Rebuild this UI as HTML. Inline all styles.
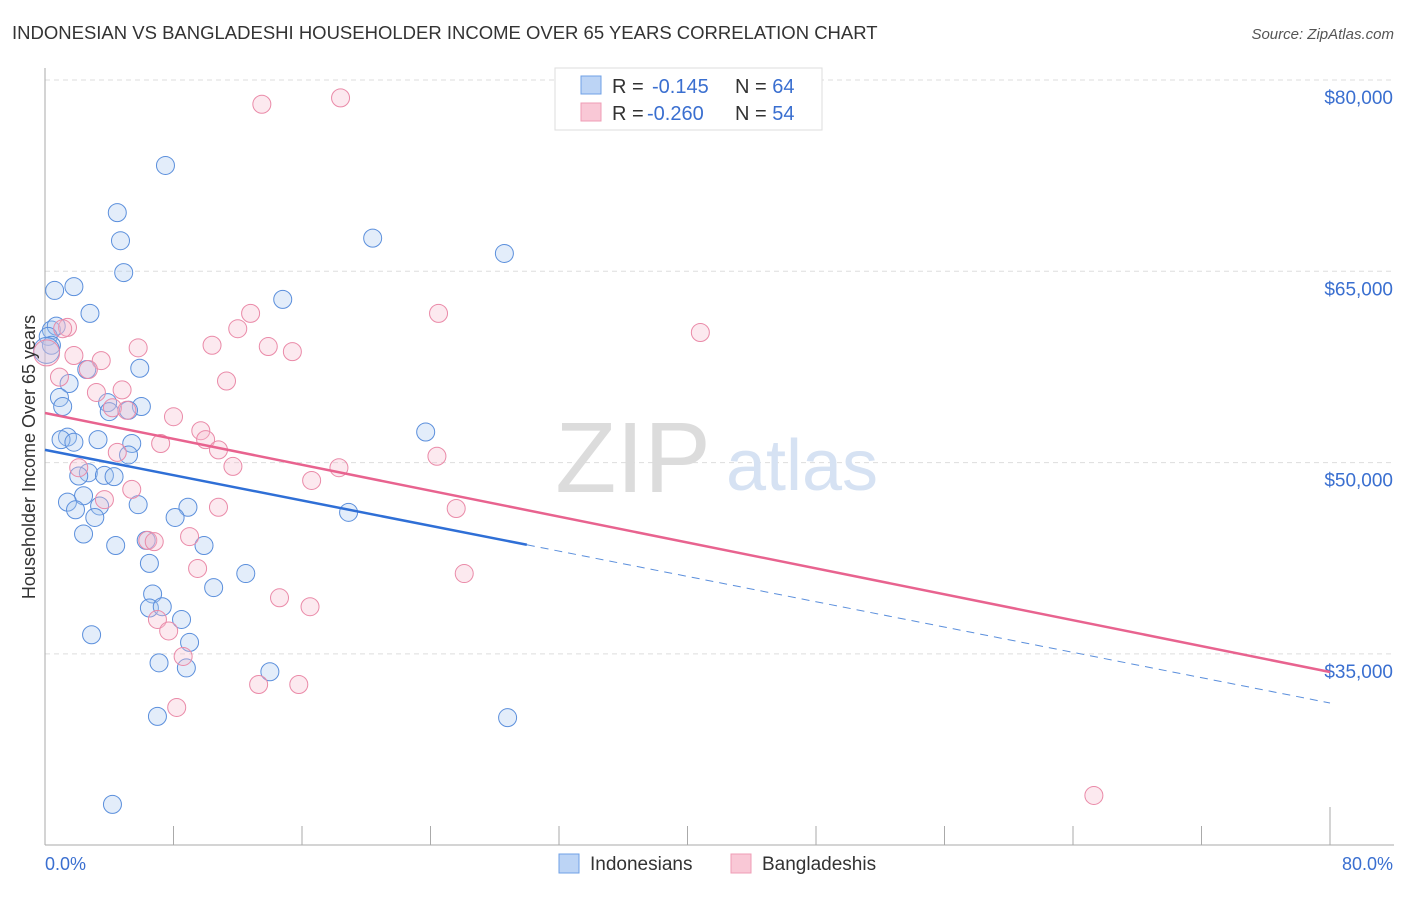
<!DOCTYPE html>
<html><head><meta charset="utf-8"><style>
body{margin:0;background:#fff;font-family:"Liberation Sans",sans-serif}
svg text{font-family:"Liberation Sans",sans-serif}
</style></head><body>
<svg id="chart" width="1406" height="892" viewBox="0 0 1406 892">
<text x="12" y="39" font-size="18.5" fill="#333">INDONESIAN VS BANGLADESHI HOUSEHOLDER INCOME OVER 65 YEARS CORRELATION CHART</text>
<text x="1394" y="39" font-size="15" fill="#555" font-style="italic" text-anchor="end">Source: ZipAtlas.com</text>
<g id="grid"></g>
<text x="633" y="492" font-size="100" fill="#dcdcdc" font-family="Liberation Serif" text-anchor="middle">ZIP</text>
<text x="802" y="490" font-size="72" fill="#d6e2f3" text-anchor="middle">atlas</text>
<g id="axes"></g>
<g id="points"></g>
<g id="trends"></g>
<text x="35" y="457" font-size="18" fill="#333" text-anchor="middle" transform="rotate(-90 35 457)">Householder Income Over 65 years</text>
<text x="45" y="870" font-size="18" fill="#3a6fd0">0.0%</text>
<text x="1393" y="870" font-size="18" fill="#3a6fd0" text-anchor="end">80.0%</text>
<g>
<rect x="555" y="68" width="267" height="62" fill="#fff" stroke="#ddd"/>
<rect x="581" y="76" width="20" height="18" fill="#bcd4f5" stroke="#6fa0e6"/>
<rect x="581" y="103" width="20" height="18" fill="#f9c8d6" stroke="#ef9cb5"/>
<text x="612" y="93" font-size="20" fill="#333">R = <tspan x="652" fill="#3a6fd0">-0.145</tspan><tspan x="735">N = </tspan><tspan fill="#3a6fd0">64</tspan></text>
<text x="612" y="120" font-size="20" fill="#333">R = <tspan x="647" fill="#3a6fd0">-0.260</tspan><tspan x="735">N = </tspan><tspan fill="#3a6fd0">54</tspan></text>
</g>
<g>
<rect x="559" y="854" width="20" height="19" fill="#bcd4f5" stroke="#6fa0e6"/>
<text x="590" y="870" font-size="19" fill="#333">Indonesians</text>
<rect x="731" y="854" width="20" height="19" fill="#f9c8d6" stroke="#ef9cb5"/>
<text x="762" y="870" font-size="19" fill="#333">Bangladeshis</text>
</g>
</svg>
<script>
const yTicks=[80000,65000,50000,35000];
const yTickLabels=["$80,000","$65,000","$50,000","$35,000"];
const xTicks=[0,8,16,24,32,40,48,56,64,72,80];
const blueX=[7.5,4.5,4.7,4.9,20.4,28.6,0.6,1.8,14.8,2.8,0.4,0.7,0.2,0.4,5.9,2.6,1.5,0.9,1.1,3.9,4.0,6.0,5.2,23.7,1.4,1.0,1.8,3.3,5.4,5.2,2.7,3.7,4.3,2.1,2.4,1.4,1.9,5.8,3.4,3.1,8.9,8.1,18.9,2.4,4.4,9.9,6.3,6.5,12.5,10.5,6.7,6.5,7.3,8.5,2.9,9.0,8.8,7.1,14.0,7.0,28.8,4.2,0.1];
const blueY=[73300,69600,67400,64900,67600,66400,63500,63800,62800,61700,60400,60700,59900,59200,57400,57300,56200,55100,54400,54700,54000,54400,54100,52400,52000,51800,51600,51800,51500,50600,49200,49000,48900,48950,47400,46900,46300,46700,46600,45700,46500,45700,46100,44400,43500,43500,43900,42100,41300,40200,39700,38600,38700,37700,36500,35900,33900,34300,33600,30100,30000,23200,58800];
const pinkX=[13.5,18.4,24.5,40.8,12.8,12.0,1.4,1.1,10.4,13.9,15.4,5.8,1.8,3.5,2.7,11.3,0.9,4.8,3.2,4.2,5.1,8.0,9.7,10.0,10.8,7.2,24.4,4.5,11.7,2.1,18.3,16.6,5.4,3.7,10.8,25.6,6.4,6.8,9.0,9.5,26.1,14.6,16.5,7.0,7.7,8.6,13.3,15.8,8.2,65.3,0.1];
const pinkY=[78100,78600,61700,60200,61700,60500,60600,60500,59200,59100,58700,59000,58400,58000,57300,56400,56700,55700,55500,54300,54100,53600,52500,51800,51000,51500,50500,50800,49700,49600,49600,48600,47900,47100,46500,46400,43900,43800,44200,41700,41300,39400,38700,37700,36800,34800,32600,32600,30800,23900,58600];
const blueTrend=[51000,31150];
const blueSolidEnd=30;
const pinkTrend=[53890,33580];
const NS="http://www.w3.org/2000/svg";
const X=v=>45+v/80*1285;
const Y=v=>80+(80000-v)/15000*191.3;
function mk(tag,attrs,parent){const e=document.createElementNS(NS,tag);for(const k in attrs)e.setAttribute(k,attrs[k]);parent.appendChild(e);return e;}
const grid=document.getElementById('grid'),axes=document.getElementById('axes'),pts=document.getElementById('points'),tr=document.getElementById('trends');
yTicks.forEach((t,i)=>{
  const l=mk('line',{x1:45,x2:1394,y1:Y(t),y2:Y(t),stroke:'#ddd','stroke-dasharray':'5,4'},grid);
  
  
  const tx=mk('text',{x:1393,y:Y(t)+24,'font-size':19,fill:'#3a6fd0','text-anchor':'end'},axes);
  tx.textContent=yTickLabels[i];
  
  
});
const ya=mk('line',{x1:45,x2:45,y1:68,y2:845,stroke:'#aaa'},axes);


const xa=mk('line',{x1:45,x2:1394,y1:845,y2:845,stroke:'#aaa'},axes);


xTicks.forEach(t=>{
  const l=mk('line',{x1:X(t),x2:X(t),y1:t==80?807:826,y2:845,stroke:'#aaa'},axes);
  
  
});
function dots(xs,ys,fill,stroke,name){
  xs.forEach((x,i)=>{
    const big=i===xs.length-1;
    const c=mk('circle',{cx:X(x),cy:Y(ys[i]),r:big?13:9,fill:fill,'fill-opacity':0.32,stroke:stroke,'stroke-width':1},pts);
    
    
  });
}
dots(blueX,blueY,'#a9c8f0','#5b8fdc','indonesian-point');
dots(pinkX,pinkY,'#f7bccd','#ea8aa8','bangladeshi-point');
const bAt=x=>blueTrend[0]+(blueTrend[1]-blueTrend[0])*x/80;
const b1=mk('line',{x1:X(0),y1:Y(blueTrend[0]),x2:X(blueSolidEnd),y2:Y(bAt(blueSolidEnd)),stroke:'#2f6fd6','stroke-width':2.5},tr);


const b2=mk('line',{x1:X(blueSolidEnd),y1:Y(bAt(blueSolidEnd)),x2:X(80),y2:Y(blueTrend[1]),stroke:'#5b8fdc','stroke-width':1,'stroke-dasharray':'8,6'},tr);


const p1=mk('line',{x1:X(0),y1:Y(pinkTrend[0]),x2:X(80),y2:Y(pinkTrend[1]),stroke:'#e8638f','stroke-width':2.5},tr);


</script>
</body></html>
